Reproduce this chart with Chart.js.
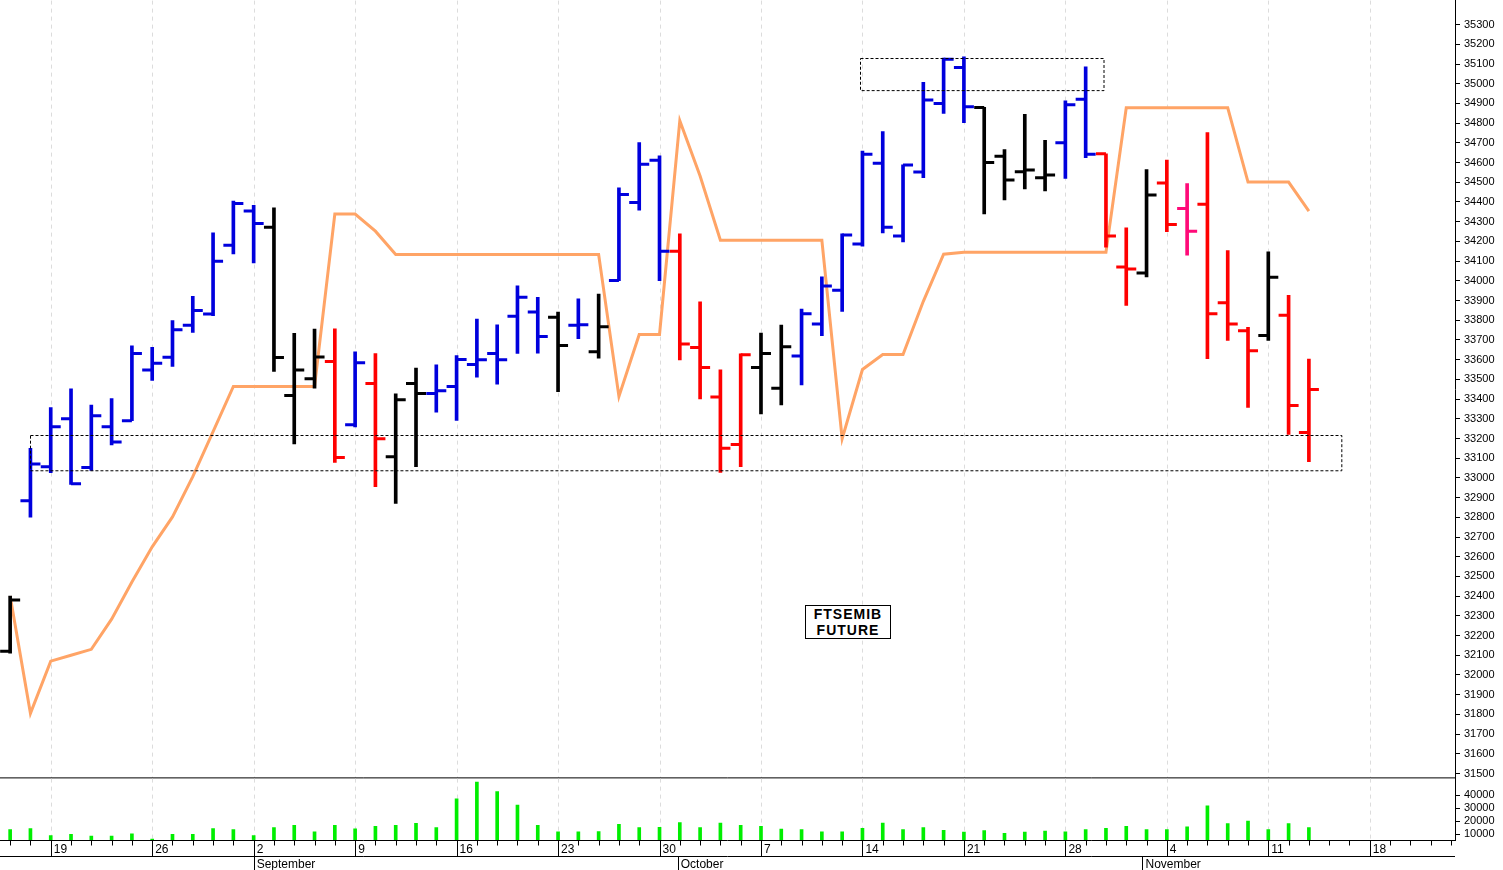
<!DOCTYPE html>
<html>
<head>
<meta charset="utf-8">
<script src="https://cdn.jsdelivr.net/npm/chart.js@4/dist/chart.umd.min.js"></script>
<style>
  body { margin: 0; background: #fff; font-family: "Liberation Sans", Arial, sans-serif; overflow: hidden; }
  #wrap { position: relative; width: 1503px; height: 870px; overflow: hidden; }
  #main-box { position: absolute; left: 0; top: -10px; width: 1503px; height: 799px; }
  #vol-box { position: absolute; left: 0; top: 768px; width: 1503px; height: 102px; }
  #label { position: absolute; left: 805px; top: 605px; width: 84px; height: 32px; border: 1px solid #000;
    background: #fff; font: bold 14px "Liberation Sans", Arial, sans-serif; letter-spacing: 1px;
    text-align: center; line-height: 16px; }
</style>
</head>
<body>
<div id="wrap">
  <div id="main-box"><canvas id="mainChart"></canvas></div>
  <div id="vol-box"><canvas id="volChart"></canvas></div>
  <div id="label">FTSEMIB<br>FUTURE</div>
</div>
<script>
// daily bars, FTSEMIB future (Aug 15 .. Nov 13)
const opens  = [32120,32884,33057,33300,33053,33259,33290,33548,33612,33774,33832,34181,34354,34272,33418,33503,33590,33269,33479,33107,
                33479,33428,33464,33575,33631,33820,33842,33815,33774,33640,34001,34397,34612,34150,33662,33411,33170,33560,33455,33619,
                33781,33952,34187,34596,34227,34552,34900,35083,34880,34632,34554,34523,34701,34922,34645,34070,34040,34496,34367,34388,
                33889,33747,33722,33825,33230];
const highs  = [32400,33150,33357,33452,33370,33402,33670,33662,33798,33921,34243,34405,34383,34371,33733,33755,33757,33640,33631,33426,
                33557,33574,33621,33806,33777,33974,33916,33841,33908,33933,34472,34701,34634,34238,33893,33548,33630,33735,33775,33857,
                34020,34238,34659,34757,34588,35007,35130,35137,34880,34666,34845,34713,34913,35086,34645,34269,34564,34613,34493,34752,
                34154,33764,34147,33927,33603];
const lows   = [32110,32800,33026,32967,33038,33167,33290,33494,33565,33738,33823,34137,34091,33540,33172,33455,33079,33258,32955,32870,
                33057,33333,33291,33511,33475,33632,33633,33438,33706,33608,34001,34359,34001,33599,33401,33028,33057,33324,33370,33472,
                33722,33845,34176,34243,34198,34523,34849,34803,34340,34410,34466,34456,34520,34625,34171,33875,34020,34249,34130,33605,
                33698,33357,33698,33221,33082];
const closes = [32380,33070,33260,32970,33315,33182,33631,33582,33752,33850,34099,34393,34291,33611,33548,33613,33103,33584,33198,33397,
                33428,33442,33601,33599,33599,33916,33718,33672,33777,33767,34438,34591,34150,33680,33560,33150,33625,33631,33665,33833,
                33974,34232,34642,34272,34588,34917,35125,34883,34600,34511,34562,34537,34893,34642,34227,34060,34435,34286,34252,33833,
                33781,33645,34018,33367,33448];
// bar colour codes: b = up trend, k = neutral, r = down trend, p = pink
const barColors = ['k','b','b','b','b','b','b','b','b','b','b','b','b','k','k','k','r','b','r','k',
                   'k','b','b','b','b','b','b','k','b','k','b','b','b','r','r','r','r','k','k','b',
                   'b','b','b','b','b','b','b','b','k','k','k','k','b','b','r','r','k','r','p','r',
                   'r','r','k','r','r'];
const stopLine = [32400,31805,32070,32100,32130,32283,32472,32650,32802,33006,33235,33464,33464,33464,33464,33464,34339,34339,34252,34134,
                  34134,34134,34134,34134,34134,34134,34134,34134,34134,34134,33413,33728,33728,34812,34532,34206,34206,34206,34206,34206,
                  34206,33199,33550,33626,33626,33896,34135,34145,34145,34145,34145,34145,34145,34145,34145,34878,34878,34878,34878,34878,
                  34878,34501,34501,34501,34354];
const volumes = [13700,14500,9000,10000,8700,8700,10500,6500,10000,10000,14500,13700,9000,15200,16900,11900,16900,14200,16200,16900,
                 18400,15200,37300,50000,42800,32400,16900,11900,11900,12200,17700,15200,15400,19000,15200,18700,16900,16200,14000,13700,
                 11900,11900,14700,18700,13700,15200,13200,11700,13000,10800,11700,12500,11900,13700,14700,16200,13700,13700,15700,31900,
                 18200,20200,13700,18200,15200];
const weekIdx = [2,7,12,17,22,27,32,37,42,47,52,57,62,67];
const weekLabels = ['19','26','2','9','16','23','30','7','14','21','28','4','11','18'];
const monthIdx = [12,32.9,55.8];
const monthLabels = ['September','October','November'];
const priceTicks = [];
for (let v = 31500; v <= 35300; v += 100) priceTicks.push(v);
const volTicks = [10000,20000,30000,40000];

const colorMap = { b: '#0000dd', k: '#000000', r: '#ff0000', p: '#ff0a78' };
const xMin = -0.5, xMax = 71.2;
const priceMin = 31475, priceMax = 35422;
const volMin = 5700, volMax = 52750;
const axisFont = { family: 'Liberation Sans', size: 11 };

function weekGrid(chart) {
    const ctx = chart.ctx, x = chart.scales.x, a = chart.chartArea;
    ctx.save();
    ctx.strokeStyle = '#dcdcdc';
    ctx.lineWidth = 1;
    ctx.setLineDash([4, 4]);
    ctx.beginPath();
    weekIdx.forEach(i => {
        const px = Math.round(x.getPixelForValue(i)) + 0.5;
        ctx.moveTo(px, a.top); ctx.lineTo(px, a.bottom);
    });
    ctx.stroke();
    ctx.restore();
}

const ohlcTicks = {
    id: 'ohlcTicks',
    beforeDatasetsDraw: weekGrid,
    afterDatasetsDraw(chart) {
        const ctx = chart.ctx, x = chart.scales.x, y = chart.scales.y;
        ctx.save();
        ctx.lineWidth = 3;
        opens.forEach((o, i) => {
            const px = x.getPixelForValue(i);
            ctx.strokeStyle = colorMap[barColors[i]];
            ctx.beginPath();
            ctx.moveTo(px - 10, y.getPixelForValue(o)); ctx.lineTo(px, y.getPixelForValue(o));
            ctx.moveTo(px, y.getPixelForValue(closes[i])); ctx.lineTo(px + 10, y.getPixelForValue(closes[i]));
            ctx.stroke();
        });
        // dashed boxes
        ctx.lineWidth = 1;
        ctx.strokeStyle = '#000';
        ctx.setLineDash([3, 2]);
        [[0.98, 65.6, 33220, 33041], [41.9, 53.9, 35132, 34969]].forEach(b => {
            const x1 = x.getPixelForValue(b[0]), x2 = x.getPixelForValue(b[1]);
            const y1 = y.getPixelForValue(b[2]), y2 = y.getPixelForValue(b[3]);
            ctx.strokeRect(Math.round(x1) + 0.5, Math.round(y1) + 0.5, x2 - x1, y2 - y1);
        });
        ctx.setLineDash([]);
        const a = chart.chartArea;
        ctx.beginPath();
        ctx.moveTo(0, a.bottom - 0.5); ctx.lineTo(a.right, a.bottom - 0.5);
        ctx.stroke();
        ctx.restore();
    }
};

const dateAxis = {
    id: 'dateAxis',
    beforeDatasetsDraw: weekGrid,
    afterDraw(chart) {
        const ctx = chart.ctx, x = chart.scales.x, a = chart.chartArea;
        const b = Math.round(a.bottom) + 0.5;
        ctx.save();
        ctx.strokeStyle = '#000';
        ctx.fillStyle = '#000';
        ctx.lineWidth = 1;
        ctx.beginPath();
        ctx.moveTo(0, b); ctx.lineTo(a.right, b);
        ctx.moveTo(0, b + 16); ctx.lineTo(a.right, b + 16);
        for (let i = 0; i <= 71; i++) {
            const px = Math.round(x.getPixelForValue(i)) + 0.5;
            ctx.moveTo(px, b); ctx.lineTo(px, b + 5);
        }
        weekIdx.forEach(i => {
            const px = Math.round(x.getPixelForValue(i)) + 0.5;
            ctx.moveTo(px, b); ctx.lineTo(px, b + 16);
        });
        monthIdx.forEach(i => {
            const px = Math.round(x.getPixelForValue(i)) + 0.5;
            ctx.moveTo(px, b + 16); ctx.lineTo(px, b + 32);
        });
        ctx.stroke();
        ctx.font = '12px "Liberation Sans"';
        ctx.textBaseline = 'middle';
        weekIdx.forEach((i, k) => ctx.fillText(weekLabels[k], x.getPixelForValue(i) + 3, b + 9));
        monthIdx.forEach((i, k) => ctx.fillText(monthLabels[k], x.getPixelForValue(i) + 3, b + 24));
        ctx.restore();
    }
};

const xScale = { type: 'linear', min: xMin, max: xMax, offset: false, display: false };

function yAxis(min, max, values) {
    return {
        position: 'right', min: min, max: max,
        afterBuildTicks: s => { s.ticks = [min, ...values, max].map(v => ({ value: v })); },
        afterFit: s => { s.width = 48; },
        ticks: { color: '#000', font: axisFont, padding: 4,
                 callback: v => (v === min || v === max) ? null : String(v) },
        grid: { drawOnChartArea: false, tickLength: 5, color: '#000' },
        border: { color: '#000' }
    };
}

new Chart(document.getElementById('mainChart'), {
    data: {
        datasets: [
            {
                type: 'line', data: stopLine.map((v, i) => ({ x: i, y: v })),
                borderColor: '#ffa466', borderWidth: 3, pointRadius: 0, tension: 0, order: 2
            },
            {
                type: 'bar', data: highs.map((h, i) => ({ x: i, y: [lows[i], h] })),
                backgroundColor: barColors.map(c => colorMap[c]), barThickness: 3, order: 1
            }
        ]
    },
    options: {
        responsive: true, maintainAspectRatio: false, animation: false,
        layout: { padding: 0 },
        plugins: { legend: { display: false }, tooltip: { enabled: false } },
        scales: { x: xScale, y: yAxis(priceMin, priceMax, priceTicks) }
    },
    plugins: [ohlcTicks]
});

new Chart(document.getElementById('volChart'), {
    type: 'bar',
    data: {
        datasets: [{
            data: volumes.map((v, i) => ({ x: i, y: v })),
            backgroundColor: '#00ee00', barThickness: 3
        }]
    },
    options: {
        responsive: true, maintainAspectRatio: false, animation: false,
        layout: { padding: { left: 0, top: 0, bottom: 30 } },
        plugins: { legend: { display: false }, tooltip: { enabled: false } },
        scales: { x: xScale, y: yAxis(volMin, volMax, volTicks) }
    },
    plugins: [dateAxis]
});
</script>
</body>
</html>
